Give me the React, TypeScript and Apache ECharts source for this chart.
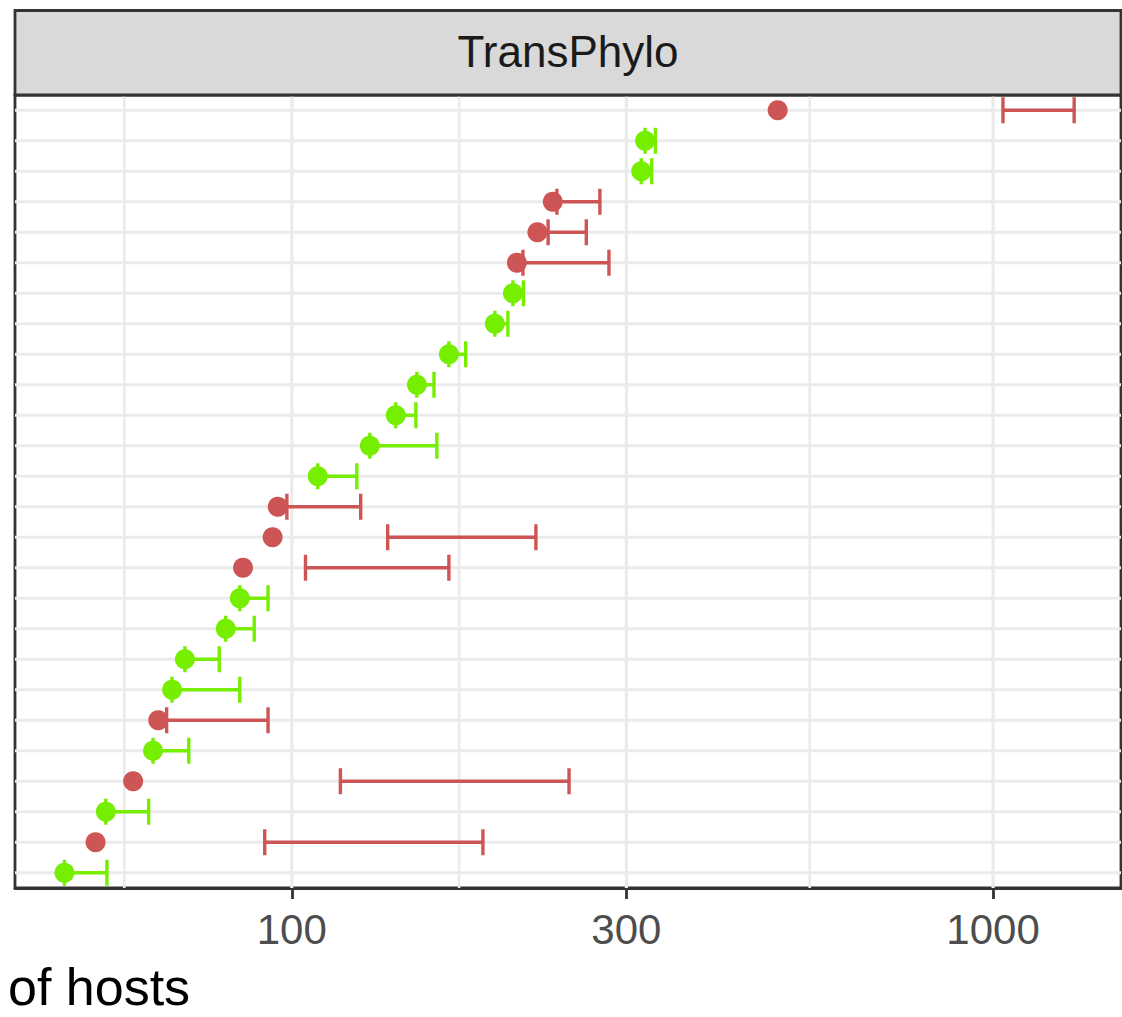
import React, { useEffect, useRef } from "react";
import * as echarts from "echarts";

// One row per outbreak, top to bottom.
const rows: string[] = Array.from({ length: 26 }, (_, i) => `Outbreak ${i + 1}`);

// Point estimate of the number of hosts for each row.
const estimate: number[] = [
  493, 319, 315, 235.6, 224, 209.4, 206.7, 194.8, 167.5, 150.8, 140.7, 129.2, 108.9,
  95.5, 93.9, 85.2, 84.3, 80.5, 70.4, 67.5, 64.5, 63.4, 59.4, 54.3, 52.5, 47.4,
];

// Interval bounds drawn as error bars.
const ciLow: number[] = [
  1033, 319, 315, 238.8, 232, 213.6, 206.7, 194.8, 167.5, 150.8, 140.7, 129.2, 108.9,
  98.4, 137, 104.6, 84.3, 80.5, 70.4, 67.5, 66.3, 63.4, 117.3, 54.3, 91.5, 47.4,
];
const ciHigh: number[] = [
  1305, 330, 326, 275, 263, 283.3, 214, 203.3, 177, 159.5, 150.3, 161, 123.8,
  125.4, 222.9, 167.5, 92.5, 88.4, 78.8, 84.3, 92.5, 71.3, 248.5, 62.5, 187.3, 54.5,
];

// true = green, false = red
const covered: boolean[] = [
  false, true, true, false, false, false, true, true, true, true, true, true, true,
  false, false, false, true, true, true, true, false, true, false, true, false, true,
];

const panelTitle = "TransPhylo";
const xAxisTitle = "of hosts";
const xBreaks: number[] = [100, 300, 1000];
const xMinorBreaks: number[] = [57.7, 173.2, 547.7];
const xLimits: [number, number] = [40.3, 1522];

const RED = "#CD5555";
const GREEN = "#76EE00";
const GRID = "#EBEBEB";
const FONT = "'Liberation Sans', Arial, Helvetica, sans-serif";

const lg = (v: number) => Math.log10(v);

export default function App() {
  const ref = useRef<HTMLDivElement>(null);

  useEffect(() => {
    if (!ref.current) return;
    const chart = echarts.init(ref.current, undefined, { renderer: "svg" });

    const majorVals = xBreaks.map(lg);
    const minorVals = xMinorBreaks.map(lg);

    const vGridData = [
      ...majorVals.map((v) => [v, 0, 3.2]),
      ...minorVals.map((v) => [v, 0, 2.6]),
    ];
    const hGridData = rows.map((_, i) => [majorVals[0], i]);

    const makeBars = (flag: boolean) =>
      rows
        .map((_, i) => i)
        .filter((i) => covered[i] === flag)
        .map((i) => [lg(ciLow[i]), i, lg(ciHigh[i])]);
    const makePoints = (flag: boolean) =>
      rows
        .map((_, i) => i)
        .filter((i) => covered[i] === flag)
        .map((i) => [lg(estimate[i]), i]);

    const errorBarRender = (color: string) => (params: any, api: any) => {
      const lo = api.coord([api.value(0), api.value(1)]);
      const hi = api.coord([api.value(2), api.value(1)]);
      const h = 13;
      const style = { stroke: color, lineWidth: 3.4 };
      return {
        type: "group",
        children: [
          { type: "line", shape: { x1: lo[0], y1: lo[1], x2: hi[0], y2: hi[1] }, style },
          { type: "line", shape: { x1: lo[0], y1: lo[1] - h, x2: lo[0], y2: lo[1] + h }, style },
          { type: "line", shape: { x1: hi[0], y1: hi[1] - h, x2: hi[0], y2: hi[1] + h }, style },
        ],
      };
    };

    chart.setOption({
      animation: false,
      backgroundColor: "#ffffff",
      grid: {
        left: 15,
        top: 95,
        right: 1,
        bottom: 129,
        show: true,
        backgroundColor: "#ffffff",
        borderColor: "#333333",
        borderWidth: 2.8,
      },
      xAxis: {
        type: "value",
        min: lg(xLimits[0]),
        max: lg(xLimits[1]),
        splitLine: { show: false },
        axisLine: { show: true, lineStyle: { color: "#333333", width: 2.8 } },
        axisTick: {
          show: true,
          customValues: majorVals,
          length: 11,
          lineStyle: { color: "#333333", width: 2.8 },
        },
        axisLabel: {
          show: true,
          customValues: majorVals,
          formatter: (v: number) => String(Math.round(Math.pow(10, v))),
          fontSize: 42,
          fontFamily: FONT,
          color: "#4D4D4D",
          margin: 20,
        },
      },
      yAxis: {
        type: "category",
        data: rows,
        inverse: true,
        axisLine: { show: false },
        axisTick: { show: false },
        axisLabel: { show: false },
        splitLine: { show: false },
      },
      graphic: [
        {
          type: "rect",
          shape: { x: 15, y: 10.5, width: 1106, height: 84.5 },
          style: { fill: "#D9D9D9", stroke: "#333333", lineWidth: 2.8 },
          z: 10,
        },
        {
          type: "text",
          x: 568,
          y: 51.5,
          style: {
            text: panelTitle,
            font: `44px ${FONT}`,
            fill: "#1A1A1A",
            align: "center",
            verticalAlign: "middle",
          },
          z: 11,
        },
        {
          type: "text",
          x: 8,
          y: 987,
          style: {
            text: xAxisTitle,
            font: `52px ${FONT}`,
            lineHeight: 52,
            fill: "#000000",
            align: "left",
            verticalAlign: "middle",
          },
          z: 11,
        },
      ],
      series: [
        {
          type: "custom",
          name: "vgrid",
          silent: true,
          z: 1,
          data: vGridData,
          encode: { x: 0, y: 1 },
          renderItem: (params: any, api: any) => {
            const cs = params.coordSys;
            const p = api.coord([api.value(0), 0]);
            return {
              type: "line",
              shape: { x1: p[0], y1: cs.y, x2: p[0], y2: cs.y + cs.height },
              style: { stroke: GRID, lineWidth: api.value(2) },
            };
          },
        },
        {
          type: "custom",
          name: "hgrid",
          silent: true,
          z: 1,
          data: hGridData,
          encode: { x: 0, y: 1 },
          renderItem: (params: any, api: any) => {
            const cs = params.coordSys;
            const p = api.coord([api.value(0), api.value(1)]);
            return {
              type: "line",
              shape: { x1: cs.x, y1: p[1], x2: cs.x + cs.width, y2: p[1] },
              style: { stroke: GRID, lineWidth: 3.2 },
            };
          },
        },
        {
          type: "scatter",
          name: "red points",
          z: 3,
          symbol: "circle",
          symbolSize: 20,
          itemStyle: { color: RED, opacity: 1 },
          data: makePoints(false),
        },
        {
          type: "scatter",
          name: "green points",
          z: 3,
          symbol: "circle",
          symbolSize: 20,
          itemStyle: { color: GREEN, opacity: 1 },
          data: makePoints(true),
        },
        {
          type: "custom",
          name: "red bars",
          z: 4,
          data: makeBars(false),
          encode: { x: [0, 2], y: 1 },
          renderItem: errorBarRender(RED),
        },
        {
          type: "custom",
          name: "green bars",
          z: 4,
          data: makeBars(true),
          encode: { x: [0, 2], y: 1 },
          renderItem: errorBarRender(GREEN),
        },
      ],
    });

    return () => chart.dispose();
  }, []);

  return (
    <div
      style={{
        position: "absolute",
        left: 0,
        top: 0,
        width: 1122,
        height: 1017,
        overflow: "hidden",
        background: "#ffffff",
      }}
    >
      <div ref={ref} style={{ width: 1122, height: 1017 }} />
    </div>
  );
}
